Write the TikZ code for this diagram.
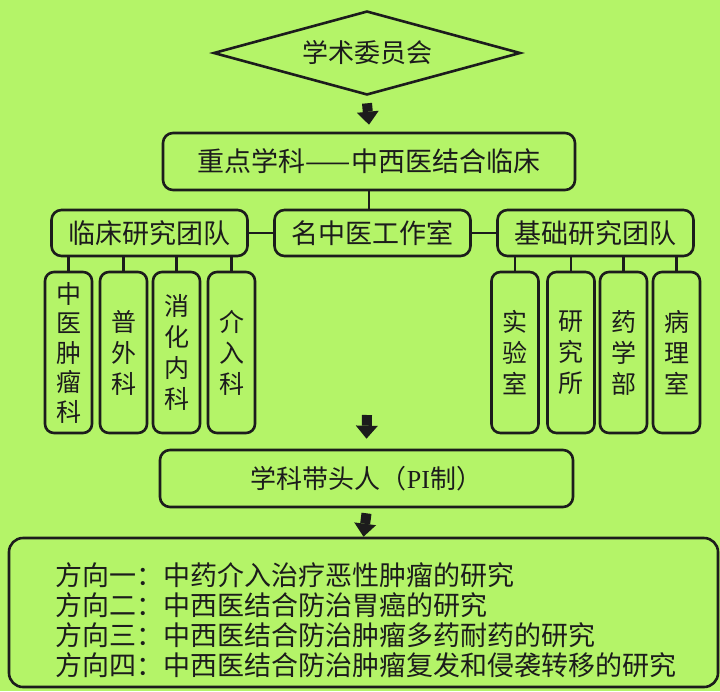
\documentclass[tikz,border=0pt]{standalone}
\usepackage{fontspec}
\setmainfont{Noto Sans CJK SC}
\newfontfamily\latinserif{Liberation Serif}
\usetikzlibrary{shapes.geometric,arrows.meta}
\definecolor{bg}{RGB}{180,244,104}
\definecolor{ink}{RGB}{28,28,28}
\begin{document}
\begin{tikzpicture}[x=1pt,y=-1pt,
  box/.style={draw=ink, line width=2.6pt, rounded corners=10pt, inner sep=0pt, text=ink},
  teambox/.style={box, minimum width=196pt, minimum height=46pt, font=\fontsize{27}{27}\selectfont},
  smallbox/.style={box, minimum width=47pt, minimum height=161pt, rounded corners=9pt, align=center, font=\fontsize{25}{31}\selectfont},
  stem/.style={draw=ink, line width=2.6pt},
  blockarrow/.style={draw=ink, line width=10pt, -{Triangle[width=22pt,length=13pt,line width=0pt]}},
]
\fill[bg] (0,0) rectangle (720,691);
\useasboundingbox (0,0) rectangle (720,691);

\node[diamond, aspect=3.65, draw=ink, line width=2.6pt, minimum width=307pt, minimum height=84pt, inner sep=0pt,
      font=\fontsize{26}{26}\selectfont, text=ink] (dia) at (367,53) {学术委员会};
\node[box, minimum width=412pt, minimum height=57pt, font=\fontsize{27}{27}\selectfont] (key) at (369,161.5) {重点学科——中西医结合临床};

\node[teambox] (lin) at (149.5,233) {临床研究团队};
\node[teambox] (ming) at (372.5,233) {名中医工作室};
\node[teambox] (ji) at (595.5,233) {基础研究团队};

\node[smallbox, font=\fontsize{25}{29.5}\selectfont] (c1) at (68.5,352.5) {中\\医\\肿\\瘤\\科};
\node[smallbox] (c2) at (123.5,352.5) {普\\外\\科};
\node[smallbox] (c3) at (176.5,352.5) {消\\化\\内\\科};
\node[smallbox] (c4) at (231.5,352.5) {介\\入\\科};

\node[smallbox] (j1) at (515,352.5) {实\\验\\室};
\node[smallbox] (j2) at (571,352.5) {研\\究\\所};
\node[smallbox] (j3) at (623.5,352.5) {药\\学\\部};
\node[smallbox] (j4) at (676.5,352.5) {病\\理\\室};

\node[box, minimum width=413pt, minimum height=57pt, font=\fontsize{26}{26}\selectfont] (pi) at (366.5,478.5) {学科带头人（{\latinserif PI}制）};

\node[box, rounded corners=14pt, minimum width=709pt, minimum height=149pt] (dirs) at (363.5,612.5) {};
\node[anchor=west, align=left, inner sep=0pt, text=ink, font=\fontsize{27}{30}\selectfont] (dirtext) at (55,620)
  {方向一：中药介入治疗恶性肿瘤的研究\\
   方向二：中西医结合防治胃癌的研究\\
   方向三：中西医结合防治肿瘤多药耐药的研究\\
   方向四：中西医结合防治肿瘤复发和侵袭转移的研究};

% connectors
\draw[blockarrow] ([yshift=-7pt]dia.south) -- ([yshift=7pt]key.north);
\draw[stem] (key.south) -- (key.south |- ming.north);
\draw[stem] (lin.east) -- (ming.west);
\draw[stem] (ming.east) -- (ji.west);
\foreach \s in {c1,c2,c3,c4} \draw[stem] (\s.north) -- (\s.north |- lin.south);
\foreach \s in {j1,j2,j3,j4} \draw[stem] (\s.north) -- (\s.north |- ji.south);
\coordinate (a2) at (367,415);
\draw[blockarrow] (a2) -- ([yshift=10pt]pi.north);
\draw[blockarrow] ([yshift=-5pt]pi.south) -- (dirs.north);
\end{tikzpicture}
\end{document}
